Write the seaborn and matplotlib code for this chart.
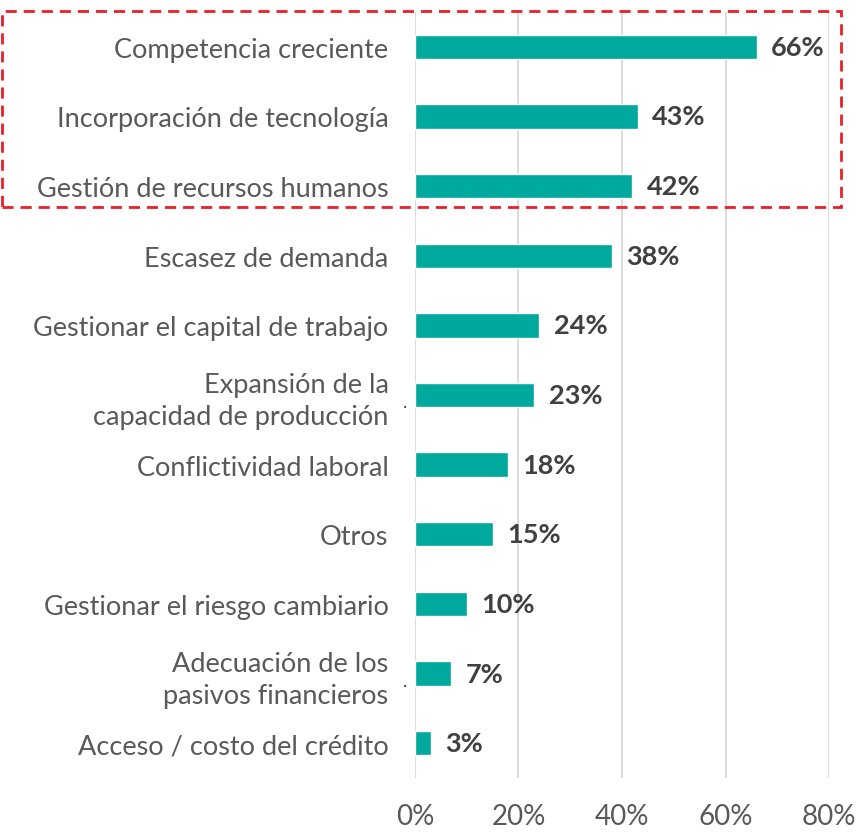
import matplotlib
matplotlib.use('Agg')
import matplotlib.pyplot as plt
import matplotlib.patches as mpatches
import matplotlib.transforms as mtransforms
import pandas as pd
import seaborn as sns

categorias = ['Competencia creciente', 'Incorporación de tecnología',
              'Gestión de recursos humanos', 'Escasez de demanda',
              'Gestionar el capital de trabajo',
              'Expansión de la\ncapacidad de producción',
              'Conflictividad laboral', 'Otros',
              'Gestionar el riesgo cambiario',
              'Adecuación de los\npasivos financieros',
              'Acceso / costo del crédito']
valores = [66, 43, 42, 38, 24, 23, 18, 15, 10, 7, 3]
ticks = [0, 20, 40, 60, 80]

df = pd.DataFrame({'cat': categorias, 'val': valores})

sns.set_style('white')
plt.rcParams['font.family'] = ['Lato', 'DejaVu Sans']

fig = plt.figure(figsize=(8.59, 8.37), dpi=100)
ax = fig.add_axes([0.4831, 0.0693, 0.482, 0.9152])

sns.barplot(data=df, x='val', y='cat', color='#00A99D', width=0.35,
            saturation=1, ax=ax)

ax.set_xlim(0, 80)
ax.set_xticks(ticks)
ax.set_xticklabels([f'{t}%' for t in ticks], fontsize=20, color='#595959')
ax.tick_params(axis='x', length=0, pad=18)
ax.tick_params(axis='y', length=0, pad=19)
for lbl in ax.get_yticklabels():
    lbl.set_fontsize(19.5)
    lbl.set_color('#595959')
    lbl.set_linespacing(1.35)
ax.set_xlabel('')
ax.set_ylabel('')
ax.grid(axis='x', color='#D9D9D9', linewidth=1.3)
ax.set_axisbelow(True)
for s in ax.spines.values():
    s.set_visible(False)

for i, v in enumerate(valores):
    ax.text(v + 2.8, i, f'{v}%', va='center', ha='left', fontsize=19.5,
            fontweight='bold', color='#404040')

# small dots next to the two-line labels
trans = mtransforms.blended_transform_factory(ax.transAxes, ax.transData)
for i, c in enumerate(categorias):
    if '\n' in c:
        ax.text(-0.025, i + 0.1, '.', transform=trans, ha='center',
                va='center', fontsize=13, color='#404040')

# red dashed highlight box
box = mpatches.Rectangle((0.002, 1 - 208 / 837), 0.977, 196 / 837,
                         transform=fig.transFigure, fill=False,
                         edgecolor='#E8202A', linestyle=(0, (4, 2.5)),
                         linewidth=2, clip_on=False)
fig.patches.append(box)

fig.savefig('out.png', dpi=100)
